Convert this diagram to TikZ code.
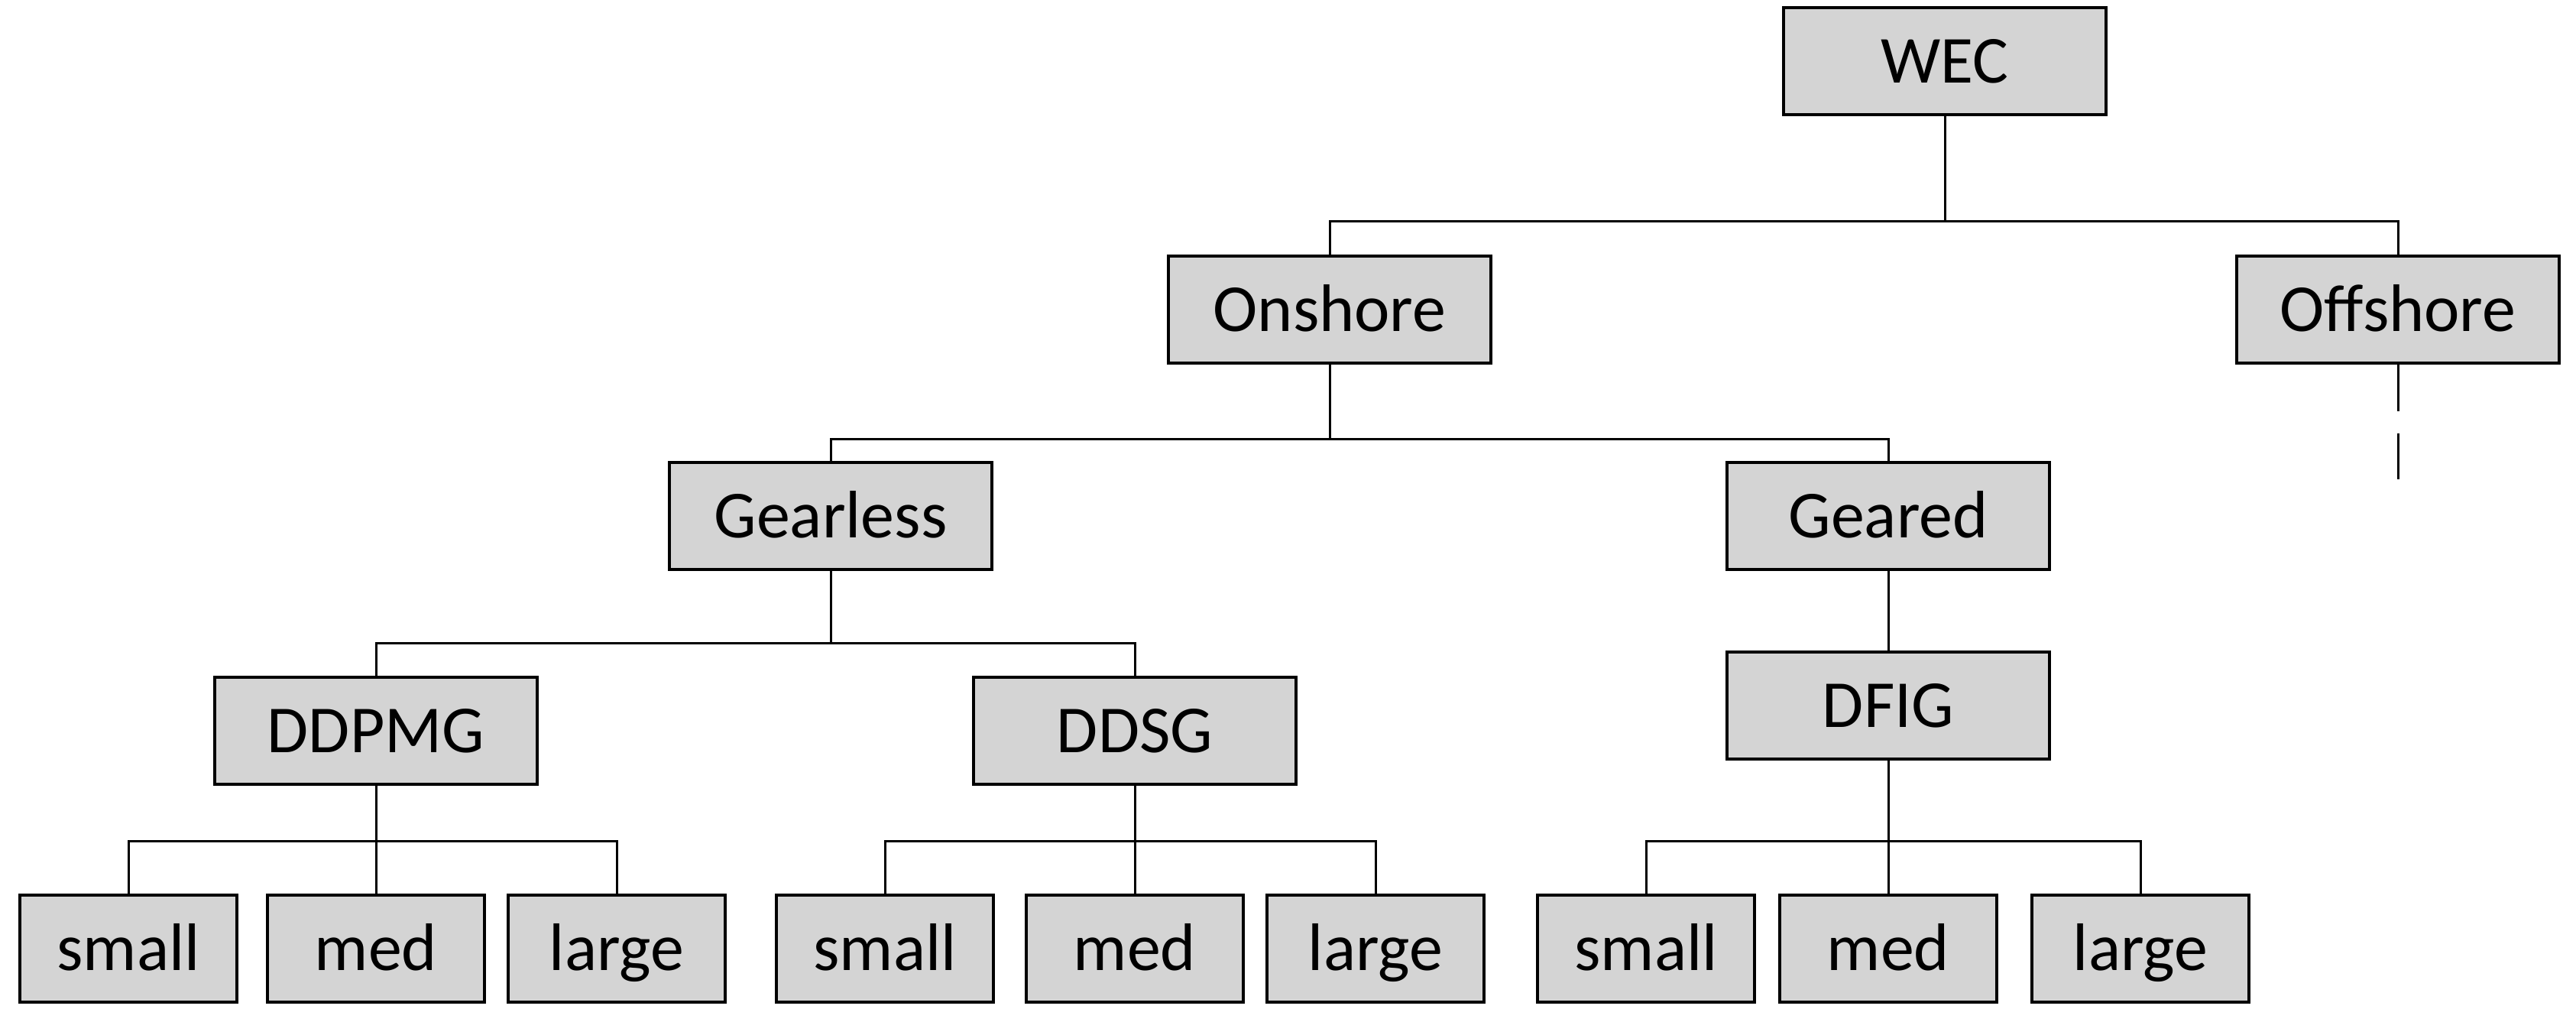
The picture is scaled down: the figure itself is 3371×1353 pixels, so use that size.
\documentclass[tikz,border=0pt]{standalone}
\usepackage{fontspec}
\setmainfont{Carlito}
\begin{document}
\begin{tikzpicture}[x=0.01cm,y=-0.01cm,
  box/.style={draw=black, line width=0.04cm, fill=black!17,
    minimum width=4.21cm, minimum height=1.39cm, inner sep=0pt,
    font=\fontsize{25pt}{30pt}\selectfont, text height=16.1pt, text depth=0pt},
  sbox/.style={box, minimum width=2.84cm},
  conn/.style={line width=0.03cm}]
\useasboundingbox (0,0) rectangle (3371,1353);
% nodes
\node[box] (wec) at (2545,80) {WEC};
\node[box] (on) at (1740,405) {Onshore};
\node[box] (off) at (3138,405) {Offshore};
\node[box] (gl) at (1087,675) {Gearless};
\node[box] (gd) at (2471,675) {Geared};
\node[box] (ddpmg) at (492,956) {DDPMG};
\node[box] (ddsg) at (1485,956) {DDSG};
\node[box] (dfig) at (2471,923) {DFIG};
\node[sbox] (s1) at (168,1241) {small};
\node[sbox] (m1) at (492,1241) {med};
\node[sbox] (l1) at (807,1241) {large};
\node[sbox] (s2) at (1158,1241) {small};
\node[sbox] (m2) at (1485,1241) {med};
\node[sbox] (l2) at (1800,1241) {large};
\node[sbox] (s3) at (2154,1241) {small};
\node[sbox] (m3) at (2471,1241) {med};
\node[sbox] (l3) at (2801,1241) {large};
% bar levels
\coordinate (b1) at (0,289);
\coordinate (b2) at (0,574);
\coordinate (b3) at (0,841);
\coordinate (b4) at (0,1100);
\coordinate (offend) at (3138,627);
% connectors
\draw[conn] (wec.south) -- (wec.south |- b1);
\draw[conn] (on.north) -- (on.north |- b1) -- (off.north |- b1) -- (off.north);
\draw[conn, dash pattern=on 0.61cm off 0.29cm] (off.south) -- (offend);
\draw[conn] (on.south) -- (on.south |- b2);
\draw[conn] (gl.north) -- (gl.north |- b2) -- (gd.north |- b2) -- (gd.north);
\draw[conn] (gd.south) -- (dfig.north);
\draw[conn] (gl.south) -- (gl.south |- b3);
\draw[conn] (ddpmg.north) -- (ddpmg.north |- b3) -- (ddsg.north |- b3) -- (ddsg.north);
\draw[conn] (ddpmg.south) -- (m1.north);
\draw[conn] (s1.north) -- (s1.north |- b4) -- (l1.north |- b4) -- (l1.north);
\draw[conn] (ddsg.south) -- (m2.north);
\draw[conn] (s2.north) -- (s2.north |- b4) -- (l2.north |- b4) -- (l2.north);
\draw[conn] (dfig.south) -- (m3.north);
\draw[conn] (s3.north) -- (s3.north |- b4) -- (l3.north |- b4) -- (l3.north);
\end{tikzpicture}
\end{document}
